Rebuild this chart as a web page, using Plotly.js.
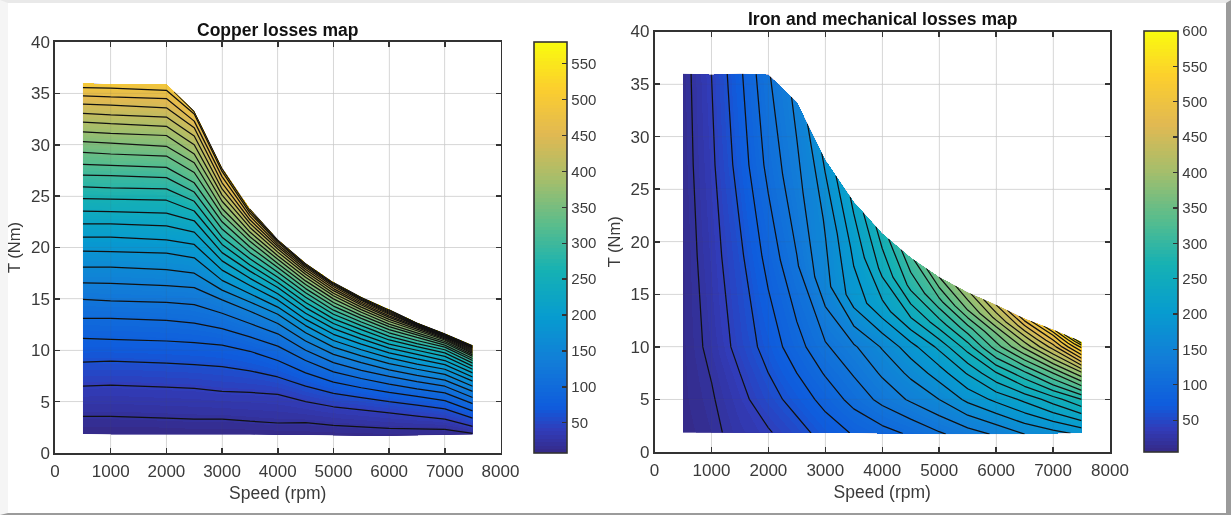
<!DOCTYPE html>
<html><head><meta charset="utf-8">
<script src="https://cdn.plot.ly/plotly-3.0.1.min.js"></script>
<style>
html,body{margin:0;padding:0;background:#fff;width:1231px;height:515px;overflow:hidden}
#frame{position:absolute;left:0;top:0;width:1231px;height:515px;box-sizing:border-box;background:#fff;
 border-top:3px solid #e9e9e9;border-left:8px solid #f5f5f5;border-right:5px solid #9b9b9b;border-bottom:2px solid #9b9b9b}
#plot{position:absolute;left:0;top:0;width:1231px;height:515px;filter:blur(0.4px)}
.contourfill path{shape-rendering:crispEdges}
</style></head><body><div id="frame"></div><div id="plot"></div>
<script>
const parula=[[0,'rgb(53,42,135)'],[0.055,'rgb(49,60,185)'],[0.111,'rgb(15,92,221)'],[0.222,'rgb(18,125,216)'],[0.333,'rgb(7,156,207)'],[0.444,'rgb(21,177,180)'],[0.556,'rgb(89,189,140)'],[0.667,'rgb(165,190,107)'],[0.778,'rgb(225,185,82)'],[0.889,'rgb(252,206,46)'],[1,'rgb(249,251,14)']];

// ---- Copper losses: torque of each contour level, by speed column
const copperSpeeds=[500,1000,2000,2500,3000,3500,4000,4500,5000,5500,6000,6500,7000,7500];
const copperLevels=[20,40,60,80,100,120,140,160,180,200,220,240,260,280,300,320,340,360,380,400,420,440,460,480];
const copperBottomT=[1.85,1.8,1.8,1.8,1.8,1.8,1.75,1.75,1.7,1.65,1.65,1.7,1.75,1.8];
const copperBottomZ=[8,8,8,9,9,9,9,10,10,10,10,10,11,12];
const copperTopT=[36,35.9,35.9,33.3,27.8,23.8,20.8,18.5,16.65,15.2,14,12.7,11.65,10.5];
const copperTopZ=[500,500,498,505,510,520,525,530,540,550,560,570,575,580];
const copperT=[
 [3.57,6.5,8.85,11.15,13.1,14.95,16.55,18.1,19.65,21,22.3,23.55,24.75,25.9,27.05,28.1,29.25,30.3,31.25,32.2,33.05,33.95,34.75,35.55],
 [3.57,6.6,8.93,11.07,13.1,14.8,16.5,18.1,19.6,21,22.3,23.5,24.7,25.8,27,28,29.1,30.15,31.1,32.05,32.9,33.85,34.65,35.5],
 [3.4,6.4,8.75,10.9,12.9,14.65,16.3,17.85,19.45,20.75,22.1,23.35,24.6,25.7,26.8,27.8,28.9,29.85,30.9,31.8,32.7,33.6,34.5,35.3],
 [3.3,6.3,8.6,10.75,12.65,14.45,16.1,17.5,19,20.3,21.5,22.6,23.55,24.5,25.4,26.3,27.3,28.25,29.1,30,30.85,31.65,32.3,33],
 [3.3,6,8.4,10.5,12.1,13.6,14.9,15.85,16.8,17.8,18.7,19.5,20.3,21,21.8,22.5,23.2,23.8,24.5,25.1,25.7,26.3,26.9,27.4],
 [3.1,5.9,8,9.9,11.3,12.6,13.8,14.7,15.5,16.3,17,17.7,18.3,18.9,19.5,20.05,20.6,21.05,21.5,21.95,22.35,22.7,23.05,23.35],
 [2.92,5.7,7.4,9,10.4,11.6,12.6,13.5,14.2,14.9,15.5,16.1,16.6,17.1,17.6,18.05,18.45,18.85,19.2,19.55,19.85,20.1,20.3,20.5],
 [2.95,5,6.5,7.8,9,10,10.9,11.7,12.4,13,13.6,14.15,14.65,15.15,15.6,16,16.4,16.75,17.1,17.4,17.65,17.85,18.05,18.2],
 [2.7,4.5,5.8,6.9,7.9,8.8,9.6,10.3,10.95,11.55,12.1,12.6,13.05,13.5,13.9,14.3,14.65,15,15.3,15.55,15.8,16,16.2,16.35],
 [2.55,4.2,5.4,6.35,7.25,8.05,8.8,9.45,10.05,10.6,11.1,11.55,12,12.4,12.75,13.1,13.4,13.7,13.95,14.2,14.4,14.55,14.7,14.85],
 [2.4,3.9,5,5.9,6.7,7.45,8.1,8.7,9.25,9.75,10.2,10.6,11,11.35,11.7,12,12.3,12.55,12.8,13,13.2,13.35,13.5,13.6],
 [2.35,3.6,4.65,5.5,6.25,6.95,7.55,8.15,8.65,9.15,9.6,10,10.35,10.65,10.95,11.25,11.5,11.7,11.9,12.05,12.2,12.3,12.4,12.45],
 [2.3,3.3,4.3,5.1,5.85,6.5,7.1,7.65,8.15,8.6,9,9.4,9.75,10.05,10.3,10.5,10.7,10.85,11,11.1,11.2,11.3,11.35,11.4],
 [1.9,2.6,3.4,4.1,4.8,5.4,6,6.5,7,7.4,7.8,8.15,8.45,8.75,9,9.2,9.4,9.55,9.7,9.8,9.9,10,10.1,10.2]
];

// ---- Iron and mechanical losses: torque rows and loss values, by speed column
const ironSpeeds=[500,1000,1500,2000,2500,3000,3500,4000,4500,5000,5500,6000,6500,7000,7500];
const ironT0=[1.85,1.85,1.85,1.85,1.8,1.8,1.8,1.75,1.75,1.7,1.7,1.7,1.7,1.75,1.8];
const ironT1=[5,5,5,5,5,5,5,5,5,5,5,5,5,5,5];
const ironT1b=[7.5,7.5,7.5,7.5,7.5,7.5,7.5,7.5,7.5,7.5,7.5,7.5,7.5,7.5,7.5];
const ironT2=[10,10,10,10,10,10,10,10,10,10,10,10,10,10,10];
const ironT3=[18.7,18.6,18.7,18.6,17.8,16,14.6,13.6,12.8,12.2,11.7,11.3,10.9,10.55,10.17];
const ironT4=[27.3,27.3,27.3,27.3,25.5,21.9,19.2,17.2,15.7,14.4,13.5,12.7,11.8,11.1,10.33];
const ironT5=[36,35.9,36,35.9,33.3,27.8,23.8,20.8,18.5,16.65,15.2,14,12.7,11.65,10.5];
const ironZ0=[6,15,28,38,52,68,82,92,103,117,130,143,160,172,185];
const ironZ1=[8,18,34,52,68,87,107,126,143,160,185,205,225,250,280];
const ironZ1b=[8.2,21,40,60,80,102,122,143,165,190,222,258,295,340,395];
const ironZ2=[8.5,25,47,68,92,117,137,162,192,225,270,330,385,450,545];
const ironZ3=[9,31,56,87,118,153,190,212,240,270,310,360,415,475,560];
const ironZ4=[11,36,68,106,134,162,205,245,285,315,360,405,450,500,578];
const ironZ5=[12,40,76,118,145,185,225,270,315,360,395,440,490,535,600];

const xTicks=[0,1000,2000,3000,4000,5000,6000,7000,8000];
const yTicks=[0,5,10,15,20,25,30,35,40];
const copperBarTicks=[50,100,150,200,250,300,350,400,450,500,550];
const ironBarTicks=[50,100,150,200,250,300,350,400,450,500,550,600];

const W=1231,H=515;
const rowsOf=(cols,i)=>cols.map(c=>c[i]);
const copperY=[copperBottomT].concat(copperLevels.map((_,i)=>rowsOf(copperT,i))).concat([copperTopT]);
const copperZ=[copperBottomZ].concat(copperLevels.map(l=>copperSpeeds.map(()=>l))).concat([copperTopZ]);
const ironY=[ironT0,ironT1,ironT1b,ironT2,ironT3,ironT4,ironT5];
const ironZ=[ironZ0,ironZ1,ironZ1b,ironZ2,ironZ3,ironZ4,ironZ5];

function contourSet(id,xa,ya,speeds,y,z,zmin,zmax,barTicks,bar){
  const a=speeds, b=y.map((_,i)=>i);
  const axis={showgrid:false,showline:false,showticklabels:'none',startline:false,endline:false,minorgridcount:0,smoothing:0,tickmode:'array',tickvals:[]};
  return [
   {type:'carpet',carpet:id,a:a,b:b,x:y.map(()=>speeds),y:y,xaxis:xa,yaxis:ya,aaxis:axis,baxis:axis},
   {type:'contourcarpet',carpet:id,a:a,b:b,z:z,xaxis:xa,yaxis:ya,autocontour:false,
    contours:{start:zmin,end:zmax,size:5,coloring:'fill',showlines:false},line:{width:0},
    colorscale:parula,zmin:zmin,zmax:zmax,showscale:true,
    colorbar:{x:bar.x/W,xanchor:'left',xpad:0,ypad:0,y:1-bar.bottom/H,yanchor:'bottom',lenmode:'pixels',len:bar.bottom-bar.top,
      thicknessmode:'pixels',thickness:bar.w,outlinewidth:1.6,outlinecolor:'#333',borderwidth:0,
      tickmode:'array',tickvals:barTicks,ticks:'inside',ticklen:5,tickwidth:1.3,tickcolor:'#333',
      tickfont:{family:'Liberation Sans',size:15,color:'#3c3c3c'}}},
   {type:'contourcarpet',carpet:id,a:a,b:b,z:z,xaxis:xa,yaxis:ya,autocontour:false,
    contours:{start:20,end:zmax-10,size:20,coloring:'none',showlines:true},
    line:{color:'#111',width:1.25,smoothing:0},showscale:false}
  ];
}
const data=[].concat(
  contourSet('copper','x','y',copperSpeeds,copperY,copperZ,8,580,copperBarTicks,{x:534,w:33,top:42,bottom:453}),
  contourSet('iron','x2','y2',ironSpeeds,ironY,ironZ,5,600,ironBarTicks,{x:1144,w:33.5,top:31,bottom:452})
);

const tf={family:'Liberation Sans',size:17,color:'#3a3a3a'};
function ax(vals,domain,anchor,range,title,titleSize,standoff,labelOff){return {
  domain:domain,anchor:anchor,range:range,tickmode:'array',tickvals:vals,ticks:'inside',ticklen:5,tickwidth:1.5,tickcolor:'#333',
  showline:true,linecolor:'#333',linewidth:1.6,mirror:'ticks',showgrid:true,gridcolor:'#e6e6e6',gridwidth:1,zeroline:false,
  ticklabelstandoff:labelOff,tickfont:tf,title:{text:title,font:{family:'Liberation Sans',size:titleSize,color:'#3a3a3a'},standoff:standoff},automargin:false};}
const shapes=[];
[['x','y'],['x2','y2']].forEach(([xr,yr])=>{
  xTicks.slice(1,-1).forEach(v=>shapes.push({type:'line',xref:xr,yref:yr,x0:v,x1:v,y0:0,y1:40,layer:'above',line:{color:'rgba(90,90,90,0.1)',width:1}}));
  yTicks.slice(1,-1).forEach(v=>shapes.push({type:'line',xref:xr,yref:yr,x0:0,x1:8000,y0:v,y1:v,layer:'above',line:{color:'rgba(90,90,90,0.1)',width:1}}));
});
const titleFont={family:'Liberation Sans',size:17.5,color:'#111'};
const layout={width:W,height:H,margin:{l:0,r:0,t:0,b:0},paper_bgcolor:'rgba(0,0,0,0)',plot_bgcolor:'#fff',showlegend:false,
  xaxis:ax(xTicks,[55/W,500.5/W],'y',[0,8000],'Speed (rpm)',17.5,7,2),
  yaxis:ax(yTicks,[1-453/H,1-42/H],'x',[0,40],'T (Nm)',16.5,6,0),
  xaxis2:ax(xTicks,[654.5/W,1110/W],'y2',[0,8000],'Speed (rpm)',17.5,7,2),
  yaxis2:ax(yTicks,[1-452/H,1-31.5/H],'x2',[0,40],'T (Nm)',16.5,6,0),
  shapes:shapes,
  annotations:[
   {xref:'paper',yref:'paper',x:277/W,y:1-30/H,xanchor:'center',yanchor:'middle',showarrow:false,text:'<b>Copper losses map</b>',font:titleFont},
   {xref:'paper',yref:'paper',x:882/W,y:1-19/H,xanchor:'center',yanchor:'middle',showarrow:false,text:'<b>Iron and mechanical losses map</b>',font:titleFont}
  ]};
Plotly.newPlot('plot',data,layout,{displayModeBar:false,staticPlot:true});
</script></body></html>
